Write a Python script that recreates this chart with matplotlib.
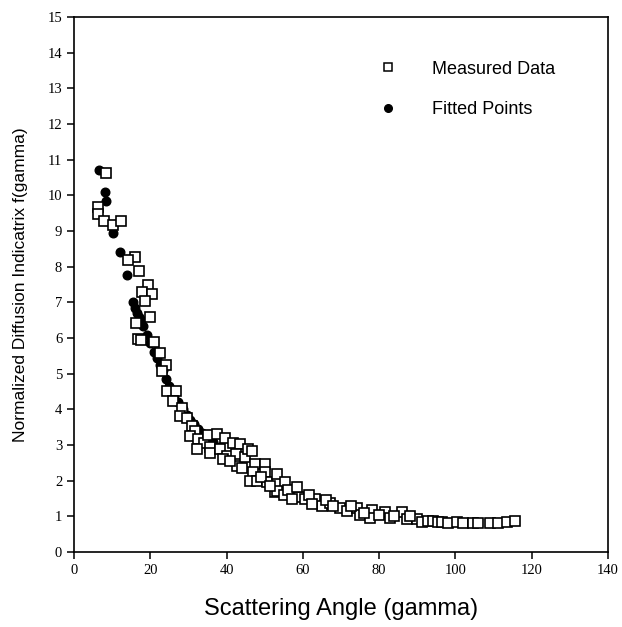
import matplotlib
matplotlib.use("Agg")
import matplotlib.pyplot as plt
from matplotlib.lines import Line2D

# Measured data (hollow squares)
meas_x = [8.4, 6.4, 6.4, 7.9, 10.3, 12.2, 16.0, 14.2, 17.1, 19.5, 17.7, 20.4, 18.6,
          16.3, 19.9, 16.7, 21.0, 17.5,
          22.5, 24.1, 23.0, 24.3, 26.7, 26.0, 28.2, 27.8, 29.5, 30.9, 31.7, 30.4,
          32.6, 34.0, 32.2, 35.0, 35.7, 35.7,
          37.6, 39.6, 38.3, 40.0, 41.8, 43.5, 42.5, 42.7, 44.8, 45.7, 46.6, 47.5,
          47.0, 46.1, 47.9, 50.1, 50.1, 50.5, 53.1, 52.7, 55.3, 53.1,
          39.0, 41.0, 44.0, 49.0, 51.5, 55.0, 56.0, 59.0,
          58.4, 57.1, 60.6, 63.2, 64.9, 67.1, 69.7, 71.5, 74.1, 75.0, 78.1, 77.6,
          81.5, 82.9, 85.9, 87.2, 89.8,
          61.5, 62.5, 66.0, 68.0, 72.5, 76.0, 80.0, 84.0, 88.0,
          91.2, 92.8, 94.2, 95.4, 96.4, 98.1, 100.3, 102.0, 104.6, 105.9, 109.0,
          111.2, 113.4, 115.6]
meas_y = [10.63, 9.68, 9.48, 9.29, 9.17, 9.28, 8.28, 8.19, 7.89, 7.48, 7.29, 7.23, 7.05,
          6.42, 6.60, 5.96, 5.88, 5.95,
          5.57, 5.24, 5.08, 4.52, 4.52, 4.24, 4.05, 3.82, 3.75, 3.54, 3.40, 3.26,
          3.17, 3.07, 2.89, 3.28, 2.94, 2.78,
          3.31, 3.21, 2.89, 2.70, 3.07, 3.03, 2.75, 2.42, 2.65, 2.89, 2.84, 2.47,
          2.23, 2.00, 2.00, 2.47, 2.23, 1.95, 2.19, 1.67, 1.95, 1.72,
          2.60, 2.55, 2.35, 2.10, 1.85, 1.60, 1.75, 1.55,
          1.81, 1.48, 1.48, 1.48, 1.29, 1.38, 1.24, 1.15, 1.24, 1.05, 1.17, 0.96,
          1.12, 0.96, 1.12, 0.92, 0.92,
          1.60, 1.35, 1.45, 1.30, 1.30, 1.10, 1.05, 1.00, 1.00,
          0.85, 0.87, 0.87, 0.83, 0.84, 0.82, 0.85, 0.82, 0.80, 0.82, 0.82,
          0.82, 0.83, 0.87]

# Fitted points (filled circles)
fit_x = [6.6, 8.1, 8.4, 10.3, 12.1, 13.8, 15.5, 16.0, 16.4, 17.0, 17.5, 18.2, 19.2,
         19.9, 21.0, 21.8, 22.6, 23.3, 24.1, 25.0, 26.2, 27.3, 28.5, 29.5, 30.5,
         31.5, 32.5, 33.5, 35.0, 36.5, 38.0]
fit_y = [10.7, 10.1, 9.83, 8.93, 8.4, 7.77, 7.01, 6.85, 6.7, 6.6, 6.5, 6.33, 6.08,
         5.87, 5.6, 5.45, 5.25, 5.1, 4.85, 4.65, 4.4, 4.2, 4.0, 3.85, 3.7,
         3.58, 3.45, 3.33, 3.2, 3.08, 2.95]

x_ticks = [0, 20, 40, 60, 80, 100, 120, 140]
y_ticks = list(range(0, 16))

fig = plt.figure(figsize=(6.22, 6.27), dpi=100)
ax = fig.add_axes([0.119, 0.1196, 0.8585, 0.8533])

ax.plot(fit_x, fit_y, 'o', color='black', ms=6.2, zorder=2)
ax.plot(meas_x, meas_y, 's', mfc='white', mec='black', mew=1.2, ms=6.8, zorder=3)

ax.set_xlim(0, 140)
ax.set_ylim(0, 15)
ax.set_xticks(x_ticks)
ax.set_yticks(y_ticks)
ax.tick_params(direction='out', length=5, width=1.1, labelsize=10.5)
for lab in ax.get_xticklabels() + ax.get_yticklabels():
    lab.set_fontfamily('Liberation Serif')
for sp in ax.spines.values():
    sp.set_linewidth(1.2)

ax.set_xlabel('Scattering Angle (gamma)', fontsize=17, family='Liberation Sans', labelpad=15)
ax.set_ylabel('Normalized Diffusion Indicatrix f(gamma)', fontsize=12.5,
              family='Liberation Sans', labelpad=14)

handles = [Line2D([], [], ls='none', marker='s', mfc='white', mec='black', mew=1.1, ms=5.5),
           Line2D([], [], ls='none', marker='o', color='black', ms=5.5)]
leg = fig.legend(handles, ['Measured Data', 'Fitted Points'], loc='upper left',
                 bbox_to_anchor=(0.609, 0.903), frameon=False, borderaxespad=0,
                 borderpad=0, prop={'family': 'Liberation Sans', 'size': 13},
                 handletextpad=1.94, labelspacing=1.3, handlelength=1.0)

fig.savefig('out.png', dpi=100)
